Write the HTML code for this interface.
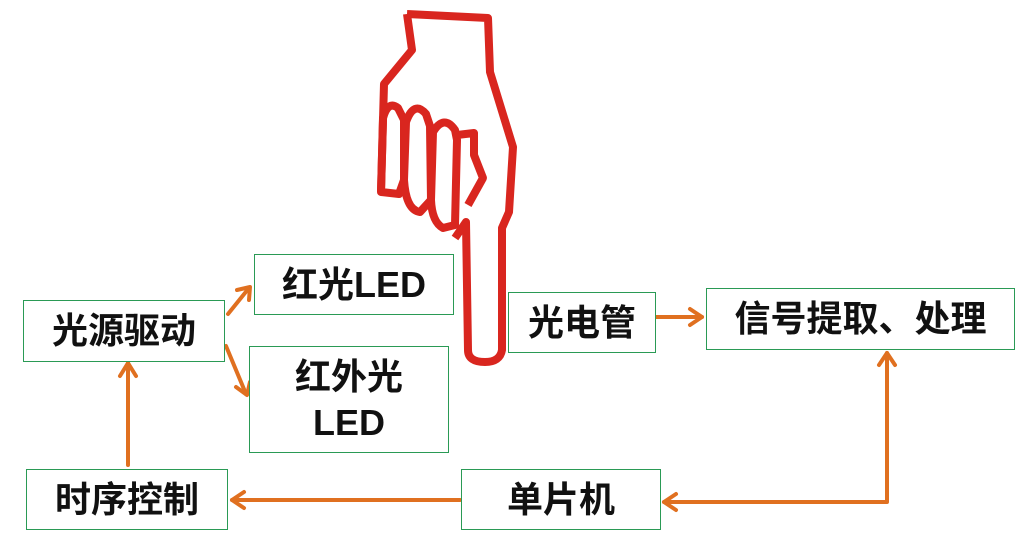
<!DOCTYPE html>
<html><head><meta charset="utf-8"><style>
body{margin:0;width:1024px;height:534px;background:#fff;overflow:hidden;position:relative;font-family:"Liberation Sans","Noto Sans CJK SC",sans-serif;}
.b{position:absolute;border:1.5px solid #2a9a55;box-sizing:border-box;display:flex;align-items:center;justify-content:center;text-align:center;font-size:36px;font-weight:bold;color:#111;line-height:46px;background:#fff}
svg{position:absolute;left:0;top:0}
</style></head><body>
<svg width="1024" height="534">
<g fill="none" stroke="#d9261f" stroke-width="8" stroke-linejoin="round">
<path d="M407,14 L488,18 L490,72 L513,147 L509,212 L502,228 L502,350 Q500,362 485,362 Q468,362 468,350 L466,222 L455,238"/>
<path d="M407,14 L412,50 L384,84 L381,192"/>
<path d="M381,192 L383,118 Q388,100 398,108 L404,120 L404,180 L399,194 Z"/>
<path d="M404,180 L406,122 Q414,100 426,114 L430,126 L431,200 L420,212 Q406,210 404,180 Z"/>
<path d="M431,200 L433,132 Q444,114 455,130 L457,140 L455,225 L443,228 Q432,222 431,200 Z"/>
<path d="M457,135 L474,133 L474,155 L483,178 L468,205"/>
</g>
<g stroke="#e07020" stroke-width="4" fill="none" stroke-linecap="round" stroke-linejoin="round">
<line x1="228" y1="314" x2="249" y2="288"/><path d="M237,290 L250,287 L249,300"/>
<line x1="226" y1="346" x2="246" y2="394"/><path d="M236,387 L247,395 L250,382"/>
<line x1="128" y1="465" x2="128" y2="363"/><path d="M120,376 L128,363 L136,376"/>
<line x1="460" y1="500" x2="232" y2="500"/><path d="M244,492 L232,500 L244,508"/>
<line x1="655" y1="317" x2="702" y2="317"/><path d="M690,309 L702,317 L690,325"/>
<polyline points="887,353 887,502 664,502"/><path d="M879,365 L887,353 L895,365"/><path d="M676,494 L664,502 L676,510"/>
</g>
</svg>
<div class="b" style="left:23px;top:300px;width:202px;height:62px">光源驱动</div>
<div class="b" style="left:254px;top:254px;width:200px;height:61px">红光LED</div>
<div class="b" style="left:249px;top:346px;width:200px;height:107px">红外光<br>LED</div>
<div class="b" style="left:26px;top:469px;width:202px;height:61px">时序控制</div>
<div class="b" style="left:461px;top:469px;width:200px;height:61px">单片机</div>
<div class="b" style="left:508px;top:292px;width:148px;height:61px">光电管</div>
<div class="b" style="left:706px;top:288px;width:309px;height:62px">信号提取、处理</div>
</body></html>
